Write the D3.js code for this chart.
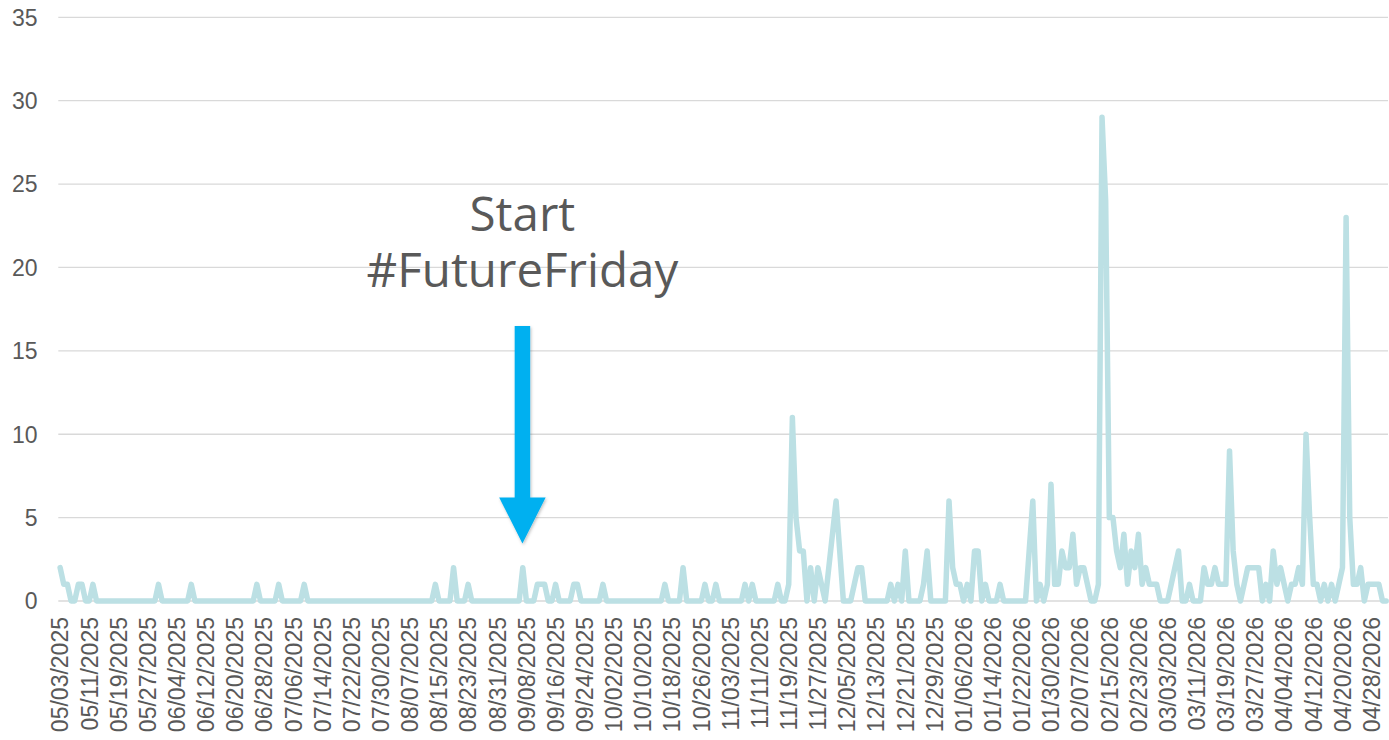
<!DOCTYPE html>
<html>
<head>
<meta charset="utf-8">
<script src="https://cdn.jsdelivr.net/npm/d3@7"></script>
<style>
  html, body { margin: 0; padding: 0; background: #ffffff; }
  svg { display: block; }
</style>
</head>
<body>
<svg id="chart" width="1389" height="740"></svg>
<script>
// daily counts, one per day starting 05/03/2025
const startDate = '05/03/2025';
const values = [
  2,1,1,0,0,1,1,0,0,1,
  0,0,0,0,0,0,0,0,0,0,
  0,0,0,0,0,0,0,1,0,0,
  0,0,0,0,0,0,1,0,0,0,
  0,0,0,0,0,0,0,0,0,0,
  0,0,0,0,1,0,0,0,0,0,
  1,0,0,0,0,0,0,1,0,0,
  0,0,0,0,0,0,0,0,0,0,
  0,0,0,0,0,0,0,0,0,0,
  0,0,0,0,0,0,0,0,0,0,
  0,0,0,1,0,0,0,0,2,0,
  0,0,1,0,0,0,0,0,0,0,
  0,0,0,0,0,0,0,2,0,0,
  0,1,1,1,0,0,1,0,0,0,
  0,1,1,0,0,0,0,0,0,1,
  0,0,0,0,0,0,0,0,0,0,
  0,0,0,0,0,0,1,0,0,0,
  0,2,0,0,0,0,0,1,0,0,
  1,0,0,0,0,0,0,0,1,0,
  1,0,0,0,0,0,0,1,0,0,
  1,11,5,3,3,0,2,0,2,1,
  0,2,4,6,3,0,0,0,1,2,
  2,0,0,0,0,0,0,0,1,0,
  1,0,3,0,0,0,0,1,3,0,
  0,0,0,0,6,2,1,1,0,1,
  0,3,3,0,1,0,0,0,1,0,
  0,0,0,0,0,0,3,6,0,1,
  0,1,7,1,1,3,2,2,4,1,
  2,2,1,0,0,1,29,24,5,5,
  3,2,4,1,3,2,4,1,2,1,
  1,1,0,0,0,1,2,3,0,0,
  1,0,0,0,2,1,1,2,1,1,
  1,9,3,1,0,1,2,2,2,2,
  0,1,0,3,1,2,1,0,1,1,
  2,1,10,5,1,1,0,1,0,1,
  0,1,2,23,5,1,1,2,0,1,
  1,1,1,0,0
];
const yTicks = [0, 5, 10, 15, 20, 25, 30, 35];
const labelEvery = 8;
const annotation = ['Start', '#FutureFriday'];
const annotationIndex = 128; // 09/08/2025

const parse = d3.timeParse('%m/%d/%Y');
const fmt = d3.timeFormat('%m/%d/%Y');
const dates = values.map((v, i) => d3.timeDay.offset(parse(startDate), i));

const svg = d3.select('#chart');
const plotLeft = 58.3, plotRight = 1388, plotTop = 17.3, plotBottom = 601;

const x = d3.scaleLinear()
    .domain([-0.5, values.length - 0.5])
    .range([plotLeft, plotRight]);
const y = d3.scaleLinear()
    .domain([0, 35])
    .range([plotBottom, plotTop]);

// gridlines
svg.append('g')
    .selectAll('line')
    .data(yTicks)
    .enter().append('line')
    .attr('x1', plotLeft)
    .attr('x2', plotRight)
    .attr('y1', d => y(d))
    .attr('y2', d => y(d))
    .attr('stroke', '#d9d9d9')
    .attr('stroke-width', 1.3);

// y labels
svg.append('g')
    .selectAll('text')
    .data(yTicks)
    .enter().append('text')
    .attr('x', 37.5)
    .attr('y', d => y(d))
    .attr('dy', '0.36em')
    .attr('text-anchor', 'end')
    .attr('font-family', 'Liberation Sans, Arial, sans-serif')
    .attr('font-size', 23)
    .attr('fill', '#595959')
    .text(d => d);

// x labels, rotated
const labelIdx = d3.range(0, values.length, labelEvery);
svg.append('g')
    .selectAll('text')
    .data(labelIdx)
    .enter().append('text')
    .attr('transform', i => `translate(${x(i)},${plotBottom + 16}) rotate(-90)`)
    .attr('dy', '0.36em')
    .attr('text-anchor', 'end')
    .attr('font-family', 'Liberation Sans, Arial, sans-serif')
    .attr('font-size', 23)
    .attr('fill', '#595959')
    .text(i => fmt(dates[i]));

// series
const line = d3.line()
    .x((d, i) => x(i))
    .y(d => y(d));

svg.append('path')
    .datum(values)
    .attr('d', line)
    .attr('fill', 'none')
    .attr('stroke', '#bce0e4')
    .attr('stroke-width', 5.5)
    .attr('stroke-linejoin', 'round')
    .attr('stroke-linecap', 'round');

// annotation
const ax = x(annotationIndex) - 4;
svg.append('g')
    .selectAll('text')
    .data(annotation)
    .enter().append('text')
    .attr('x', ax)
    .attr('y', (d, i) => 230.5 + i * 56.5)
    .attr('text-anchor', 'middle')
    .attr('font-family', 'Open Sans, sans-serif')
    .attr('font-size', 47.5)
    .attr('fill', '#595959')
    .text(d => d);

const defs = svg.append('defs');
const shadow = defs.append('filter').attr('id', 'arrow-shadow')
    .attr('x', '-50%').attr('y', '-10%').attr('width', '200%').attr('height', '130%');
shadow.append('feDropShadow')
    .attr('dx', 1).attr('dy', 1.5).attr('stdDeviation', 1.5)
    .attr('flood-color', '#000').attr('flood-opacity', 0.25);

const shaftW = 15.5, headW = 46.5;
const yTop = 326, yHead = 497.5, yTip = 543.5;
svg.append('path')
    .attr('d', [
        [ax - shaftW / 2, yTop], [ax + shaftW / 2, yTop], [ax + shaftW / 2, yHead],
        [ax + headW / 2, yHead], [ax, yTip], [ax - headW / 2, yHead],
        [ax - shaftW / 2, yHead]
    ].map((p, i) => (i ? 'L' : 'M') + p[0] + ',' + p[1]).join('') + 'Z')
    .attr('fill', '#00b0f0')
    .attr('filter', 'url(#arrow-shadow)');
</script>
</body>
</html>
